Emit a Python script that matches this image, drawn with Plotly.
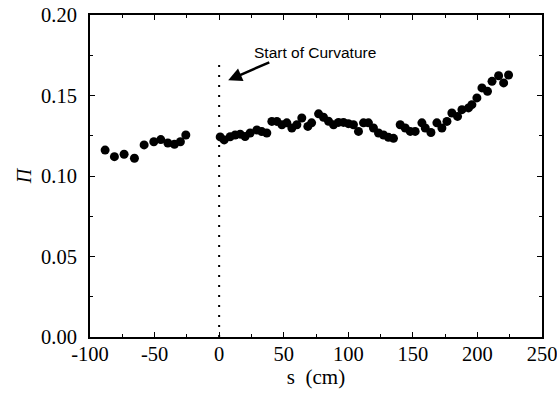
import plotly.graph_objects as go

s_before = [-88.3, -81.1, -73.6, -65.6, -58.1, -50.6, -45.2, -39.7, -34.6, -30.0, -25.8]
pi_before = [0.1161, 0.1120, 0.1135, 0.1110, 0.1193, 0.1213, 0.1226, 0.1205, 0.1197, 0.1213, 0.1255]

s_after = [0.8, 3.9, 8.5, 12.4, 16.3, 20.1, 24.0, 29.2, 33.0, 36.9, 40.8, 44.7, 48.6, 52.4,
           56.3, 60.2, 64.0, 68.7, 71.6, 77.0, 80.8, 84.7, 88.6, 92.4, 96.3, 100.1, 104.0,
           107.9, 111.8, 115.6, 119.5, 123.4, 127.3, 131.1, 135.0, 140.2, 144.1, 148.0,
           151.8, 157.0, 159.6, 164.0, 168.6, 172.5, 176.4, 180.2, 184.6, 188.0, 193.1,
           195.7, 199.6, 203.5, 207.8, 211.3, 216.4, 220.3, 224.1]
pi_after = [0.1243, 0.1224, 0.1244, 0.1255, 0.1260, 0.1245, 0.1267, 0.1286, 0.1276, 0.1267,
            0.1339, 0.1339, 0.1318, 0.1330, 0.1298, 0.1318, 0.1360, 0.1308, 0.1330, 0.1386,
            0.1365, 0.1340, 0.1318, 0.1333, 0.1333, 0.1325, 0.1318, 0.1277, 0.1330, 0.1330,
            0.1298, 0.1267, 0.1255, 0.1240, 0.1234, 0.1318, 0.1298, 0.1277, 0.1277, 0.1330,
            0.1298, 0.1270, 0.1330, 0.1298, 0.1339, 0.1391, 0.1370, 0.1412, 0.1423, 0.1443,
            0.1485, 0.1547, 0.1526, 0.1588, 0.1623, 0.1578, 0.1627]

x_ticks = [-100, -50, 0, 50, 100, 150, 200, 250]
y_ticks = [0.00, 0.05, 0.10, 0.15, 0.20]
curv_start = 0
curv_line_top = 0.170

serif = "Liberation Serif"

fig = go.Figure()
fig.add_trace(go.Scatter(x=s_before + s_after, y=pi_before + pi_after, mode="markers",
                         marker=dict(color="black", size=9), showlegend=False))
fig.add_trace(go.Scatter(x=[curv_start, curv_start], y=[0, curv_line_top], mode="lines",
                         line=dict(color="black", width=2, dash="2px,8px"), showlegend=False))

fig.add_annotation(x=7, y=0.1595, ax=40, ay=0.171, xref="x", yref="y", axref="x", ayref="y",
                   showarrow=True, arrowhead=2, arrowsize=1.1, arrowwidth=2.5, arrowcolor="black",
                   text="")
fig.add_annotation(x=25.5, y=0.1765, xref="x", yref="y", xanchor="left", showarrow=False,
                   text="Start of Curvature",
                   font=dict(family="Liberation Sans", size=15.5, color="black"))

axis_common = dict(showline=True, linecolor="black", linewidth=2, mirror="ticks",
                   ticks="inside", ticklen=5, tickwidth=1, tickcolor="black",
                   showgrid=False, zeroline=False, automargin=False,
                   ticklabeloverflow="allow",
                   tickfont=dict(family=serif, size=20.5, color="black"))

fig.update_xaxes(range=[-100, 250], tickvals=x_ticks, ticktext=[str(v) for v in x_ticks],
                 minor=dict(ticks="inside", ticklen=3, dtick=25, tickcolor="black"),
                 ticklabelstandoff=-3,
                 title=dict(text="s  (cm)", font=dict(family=serif, size=21, color="black"), standoff=0),
                 **axis_common)
fig.update_yaxes(range=[0, 0.2], tickvals=y_ticks, ticktext=[f"{v:.2f}" for v in y_ticks],
                 minor=dict(ticks="inside", ticklen=3, dtick=0.025, tickcolor="black"),
                 ticklabelstandoff=7,
                 title=dict(text="<i>Π</i>", font=dict(family=serif, size=20, color="black"), standoff=4),
                 **axis_common)

fig.update_layout(width=557, height=394, margin=dict(l=90, r=15, t=15, b=57),
                  plot_bgcolor="white", paper_bgcolor="white")

fig.write_html("out.html")
